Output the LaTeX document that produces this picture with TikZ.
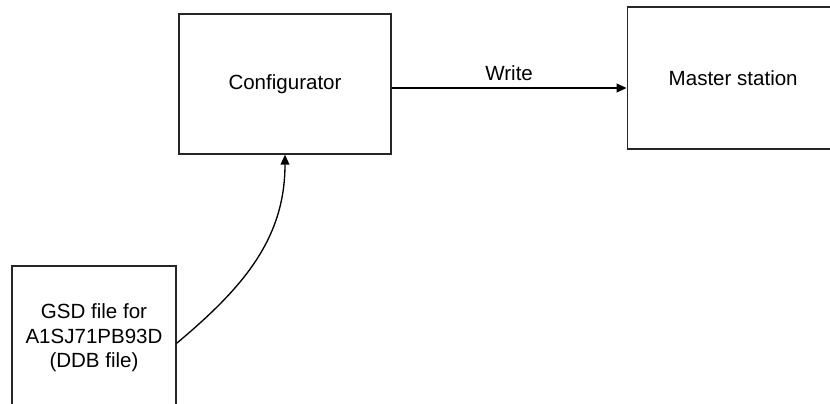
\documentclass[tikz,border=0pt]{standalone}
\usepackage{fontspec}
\setmainfont{Liberation Sans}
\usepackage{tikz}
\usetikzlibrary{
    arrows.meta,
    positioning
}

\begin{document}
\begin{tikzpicture}[
  font=\fontsize{15.4}{18.4}\selectfont,
  block/.style={rectangle,draw=black!85,line width=0.9pt,align=center,
    minimum height=105pt,minimum width=159pt,inner sep=0pt},
  arrow/.style={-{Triangle[length=7.5pt,width=6.5pt]},line width=1pt}
]
\useasboundingbox (0,0) rectangle (622.5pt,-302.25pt);
\node[block] (conf) at (213.75pt,-63pt) {Configurator};
\node[block, minimum height=106.5pt, right=176.25pt of conf, yshift=4.5pt] (master) {Master station};
\node[block, minimum width=123pt, minimum height=108pt] (gsd) at (70.5pt,-253.5pt)
  {GSD file for\\A1SJ71PB93D\\(DDB file)};
\coordinate (wr) at ([yshift=-3pt]conf.east);
\draw[arrow, line width=1.5pt] (wr) -- (wr -| master.west)
  node[midway, above=5pt, inner sep=0pt] {Write};
\draw[arrow] ([yshift=-4pt]gsd.east) to[out=40, in=-90] (conf.south);
\end{tikzpicture}
\end{document}
